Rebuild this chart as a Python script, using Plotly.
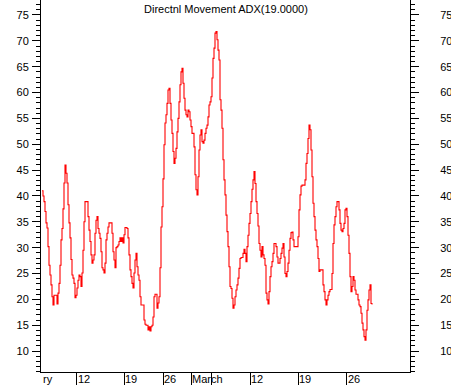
import plotly.graph_objects as go

# ADX values, one per bar
adx = [
    41.0, 40.0, 38.9, 37.0, 34.8, 33.8, 30.2, 26.6, 24.7, 22.8,
    20.5, 18.9, 20.8, 20.8, 20.8, 19.1, 21.2, 23.1, 26.6, 31.5,
    33.7, 37.5, 42.5, 46.0, 44.4, 42.5, 38.3, 34.8, 31.9, 27.7,
    24.7, 24.1, 23.1, 20.3, 20.8, 22.2, 23.7, 24.7, 24.4, 22.5,
    25.1, 29.5, 35.0, 38.9, 38.9, 38.9, 36.0, 33.4, 31.2, 28.6,
    27.0, 27.6, 28.6, 32.8, 35.3, 36.0, 33.7, 32.8, 31.8, 29.2,
    26.1, 25.7, 25.1, 27.0, 31.5, 32.8, 34.0, 34.8, 34.8, 34.8,
    32.8, 29.2, 27.6, 26.1, 30.0, 30.2, 30.5, 31.2, 31.9, 31.2,
    31.9, 30.9, 32.5, 33.9, 33.9, 33.7, 31.9, 28.6, 25.7, 24.4,
    23.1, 22.2, 25.1, 27.6, 28.9, 26.3, 24.7, 23.7, 20.5, 18.9,
    18.9, 18.9, 16.0, 15.2, 15.0, 15.0, 14.1, 14.7, 13.9, 14.7,
    15.0, 16.6, 20.5, 21.0, 21.0, 18.3, 19.3, 20.5, 26.1, 34.0,
    37.9, 43.3, 49.9, 54.1, 55.7, 57.9, 60.5, 60.8, 57.9, 54.7,
    52.1, 48.6, 46.3, 47.3, 49.2, 52.4, 55.0, 58.2, 61.5, 64.0,
    64.7, 61.8, 58.9, 56.6, 55.7, 55.3, 56.6, 56.3, 54.7, 53.4,
    52.1, 52.1, 49.5, 44.1, 41.2, 40.2, 43.7, 48.9, 51.8, 52.8,
    50.5, 50.2, 50.8, 52.1, 53.1, 53.7, 55.3, 57.6, 58.2, 59.2,
    62.8, 66.6, 68.6, 71.5, 71.8, 70.2, 68.2, 66.3, 58.6, 56.6,
    53.1, 47.0, 43.1, 40.2, 36.3, 33.1, 30.2, 26.3, 22.5, 22.1,
    20.2, 18.3, 18.9, 20.5, 21.8, 22.8, 24.1, 26.0, 27.9, 28.1,
    28.1, 28.9, 29.7, 28.9, 27.3, 30.2, 32.4, 34.7, 36.6, 38.9,
    41.3, 43.1, 44.7, 42.4, 38.9, 36.6, 34.2, 30.8, 29.5, 28.2,
    30.2, 28.6, 27.9, 26.6, 21.2, 19.9, 19.1, 21.5, 24.4, 26.3,
    27.3, 28.9, 30.8, 30.8, 30.2, 28.2, 27.0, 27.0, 27.9, 28.9,
    29.9, 30.8, 28.2, 25.0, 24.4, 25.4, 27.0, 29.5, 31.8, 32.9,
    33.0, 31.5, 30.2, 30.2, 30.2, 30.2, 32.1, 37.3, 40.2, 41.9,
    42.1, 42.1, 42.1, 43.1, 46.3, 48.2, 51.1, 53.7, 52.8, 48.9,
    43.7, 38.6, 36.0, 33.4, 31.5, 30.2, 27.9, 25.4, 25.7, 25.7,
    25.7, 22.8, 21.5, 19.9, 18.9, 19.9, 20.8, 21.5, 21.9, 21.9,
    25.0, 30.8, 34.4, 36.0, 37.9, 38.9, 38.9, 37.3, 34.7, 33.4,
    33.1, 33.7, 34.7, 37.3, 37.6, 36.0, 32.4, 28.9, 24.4, 21.5,
    22.5, 24.4, 23.7, 21.8, 21.0, 21.0, 19.9, 18.9, 18.6, 17.3,
    15.4, 14.1, 12.8, 12.1, 14.1, 17.9, 19.9, 21.8, 22.8, 19.2,
    19.0,
]
bars = list(range(len(adx)))

# date ticks (bar index of each week start) and their labels
tick_bars = [34.7, 82.3, 121, 149, 169, 208, 256.3, 304.7]
tick_labels = ["12", "19", "26", "March", "", "12", "19", "26"]
first_label = "ry"

y_range = [5.95, 77.9]
x_range = [-1, 368]
FONT = "Liberation Sans, Arial, sans-serif"

fig = go.Figure()
fig.add_trace(go.Scatter(x=bars, y=adx, mode="lines", line=dict(color="#ff0000", width=1.1, shape="hv"),
                         hoverinfo="skip", showlegend=False))
fig.add_trace(go.Scatter(x=[bars[0]], y=[adx[0]], yaxis="y2", mode="markers",
                         marker=dict(opacity=0), hoverinfo="skip", showlegend=False))

yax = dict(range=y_range, showline=True, linecolor="black", linewidth=1, showgrid=False, zeroline=False,
           ticks="outside", ticklen=8, tickcolor="black", tick0=0, dtick=5, automargin=False,
           minor=dict(ticks="outside", ticklen=4, dtick=1, tickcolor="black"),
           tickfont=dict(family=FONT, size=11, color="black"))

fig.update_layout(
    width=451, height=385,
    margin=dict(l=41, r=41, t=0, b=13, autoexpand=False),
    plot_bgcolor="white", paper_bgcolor="white",
    showlegend=False,
    hovermode=False,
    xaxis=dict(range=x_range, showline=True, linecolor="black", linewidth=1, showgrid=False,
               zeroline=False, ticks="outside", ticklen=13, tickcolor="black", automargin=False,
               tickvals=tick_bars, showticklabels=False),
    yaxis=dict(**yax, side="left", ticklabelstandoff=1),
    yaxis2=dict(**yax, side="right", overlaying="y", ticklabelstandoff=19),
)

fig.add_annotation(text="Directnl Movement ADX(19.0000)", xref="paper", yref="paper", x=0.5, y=1,
                   xanchor="center", yanchor="top", yshift=-1, showarrow=False,
                   font=dict(family=FONT, size=11, color="black"))

for pos, lab in zip([0] + tick_bars, [first_label] + tick_labels):
    if lab:
        fig.add_annotation(text=lab, x=pos, xref="x", y=0, yref="paper", xanchor="left", yanchor="top",
                           xshift=-1, yshift=1, showarrow=False,
                           font=dict(family=FONT, size=11, color="black"))

fig.write_html("out.html", config={"displayModeBar": False},
               post_script="document.body.style.margin='0';")
